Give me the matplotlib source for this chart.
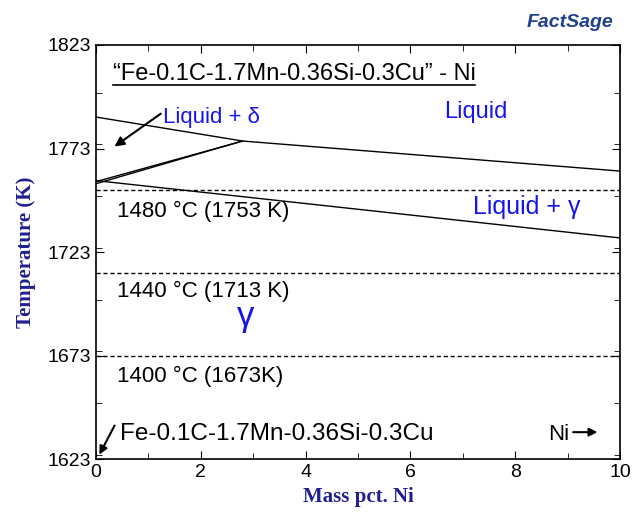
import matplotlib
matplotlib.use("Agg")
import matplotlib.pyplot as plt
from matplotlib.ticker import MultipleLocator

plt.rcParams['font.family'] = ['Liberation Sans', 'DejaVu Sans']

# phase boundaries (mass pct Ni, K)
liq_x = [0.0, 2.8, 10.0]
liq_t = [1788.2, 1776.6, 1762.1]
delta_x1 = [0.0, 2.8]
delta_t1 = [1757.0, 1776.6]
delta_x2 = [0.0, 2.75]
delta_t2 = [1756.0, 1776.3]
sol_x = [0.0, 10.0]
sol_t = [1757.5, 1729.8]

# isotherms
iso_t = [1753, 1713, 1673]
iso_labels = ["1480 °C (1753 K)", "1440 °C (1713 K)", "1400 °C (1673K)"]
iso_label_t = [1742.8, 1704.2, 1663.1]

xticks = [0, 2, 4, 6, 8, 10]
yticks = [1623, 1673, 1723, 1773, 1823]

fig = plt.figure(figsize=(6.44, 5.17), dpi=100)
ax = fig.add_axes([0.149, 0.112, 0.814, 0.801])

ax.plot(liq_x, liq_t, color='black', lw=1)
ax.plot(delta_x1, delta_t1, color='black', lw=1)
ax.plot(delta_x2, delta_t2, color='black', lw=1)
ax.plot(sol_x, sol_t, color='black', lw=1)
for t in iso_t:
    ax.axhline(t, color='black', lw=1, ls=(0, (3, 2)))

ax.set_xlim(0, 10)
ax.set_ylim(1623, 1823)
ax.set_xticks(xticks)
ax.set_yticks(yticks)
ax.xaxis.set_minor_locator(MultipleLocator(1))
ax.yaxis.set_minor_locator(MultipleLocator(25))
ax.tick_params(which='both', direction='in', top=True, right=True, labelsize=14)
ax.tick_params(which='major', length=6)
ax.tick_params(which='minor', length=4)
for s in ax.spines.values():
    s.set_linewidth(1.2)

navy = '#1f1f8f'
blue = '#1515ee'
ax.set_xlabel("Mass pct. Ni", family='Liberation Serif', fontweight='bold', fontsize=15, color=navy)
ax.set_ylabel("Temperature (K)", family='Liberation Serif', fontweight='bold', fontsize=15, color=navy, labelpad=8)

ax.text(0.32, 1809.0, "“Fe-0.1C-1.7Mn-0.36Si-0.3Cu” - Ni", fontsize=17, va='center')
ax.plot([0.32, 7.23], [1803.7, 1803.7], color='black', lw=1.2)

ax.text(7.25, 1790.6, "Liquid", fontsize=17, color=blue, ha='center', va='center')
ax.text(1.28, 1788.2, "Liquid + δ", fontsize=16, color=blue, va='center')
ax.annotate("", xy=(0.31, 1773.2), xytext=(1.28, 1790.6),
            arrowprops=dict(arrowstyle='-|>', color='black', lw=1.5, mutation_scale=14))
ax.text(8.22, 1744.7, "Liquid + γ", fontsize=18, color=blue, ha='center', va='center')
ax.text(2.86, 1692.0, "γ", fontsize=25, color=blue, ha='center', va='center')

for t, lab in zip(iso_label_t, iso_labels):
    ax.text(0.4, t, lab, fontsize=16, va='center')

ax.text(0.45, 1635.0, "Fe-0.1C-1.7Mn-0.36Si-0.3Cu", fontsize=17.5, va='center')
ax.annotate("", xy=(0.04, 1624.0), xytext=(0.38, 1640.4),
            arrowprops=dict(arrowstyle='-|>', color='black', lw=1.5, mutation_scale=12))
ax.text(8.62, 1635.0, "Ni", fontsize=16, va='center')
ax.annotate("", xy=(9.62, 1636.0), xytext=(9.05, 1636.0),
            arrowprops=dict(arrowstyle='-|>', color='black', lw=1.5, mutation_scale=12))

fig.text(0.885, 0.957, "FactSage", fontsize=14, color='#1f3f8f', fontweight='bold',
         fontstyle='italic', ha='center', va='center')

fig.savefig("out.png", dpi=100)
